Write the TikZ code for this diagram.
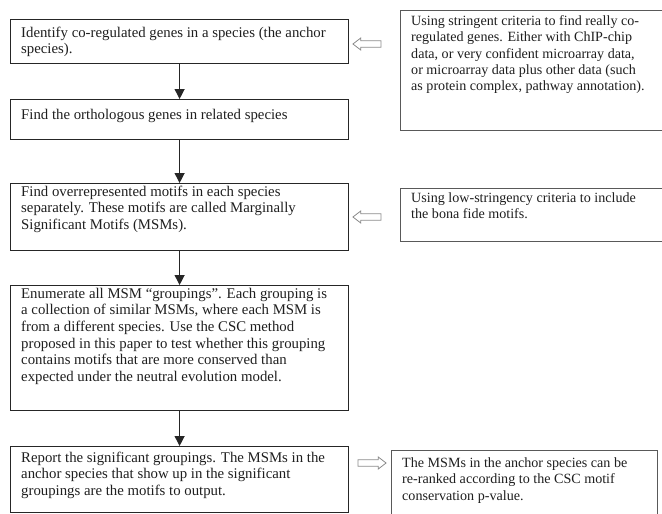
\documentclass[tikz,border=0pt]{standalone}
\usepackage{fontspec}
\setmainfont{Liberation Serif}
\usetikzlibrary{shapes.arrows,arrows.meta,calc}
\begin{document}
\begin{tikzpicture}[x=1pt,y=-1pt,
  box/.style={draw=black!85, line width=1.2pt, inner sep=0pt, anchor=north west},
  notebox/.style={draw=black!65, line width=1.2pt, inner sep=0pt, anchor=north west},
  txt/.style={anchor=north west, align=left, inner sep=0pt, text=black!88,
    font=\fontsize{14.8}{16.7}\selectfont},
  ntxt/.style={txt, font=\fontsize{14.1}{16.3}\selectfont},
  darr/.style={line width=1.2pt, draw=black!85, -{Triangle[width=10pt,length=10pt]}},
  harrow/.style={single arrow, draw=black!45, line width=0.8pt, fill=white,
    minimum height=28pt, inner xsep=0pt, inner ysep=2.8pt,
    single arrow head extend=2.8pt, single arrow tip angle=75}]
\useasboundingbox (0,0) rectangle (662,514);
\fill[white] (0,0) rectangle (662,514);

% main flow boxes
\node[box, minimum width=338pt, minimum height=44pt] (b1) at (10,19) {};
\node[box, minimum width=338pt, minimum height=40pt] (b2) at (10,99) {};
\node[box, minimum width=338pt, minimum height=67pt] (b3) at (10,183) {};
\node[box, minimum width=338pt, minimum height=125pt] (b4) at (10,285) {};
\node[box, minimum width=338pt, minimum height=66pt] (b5) at (10,446) {};

\node[txt] (t1) at ($(b1.north west)+(11,6.3)$) {\strut Identify co-regulated genes in a species (the anchor\\species).};
\node[txt] (t2) at ($(b2.north west)+(11,8.3)$) {\strut Find the orthologous genes in related species};
\node[txt] (t3) at ($(b3.north west)+(11,1.3)$) {\strut Find overrepresented motifs in each species\\separately. These motifs are called Marginally\\Significant Motifs (MSMs).};
\node[txt] (t4) at ($(b4.north west)+(11,1.3)$) {\strut Enumerate all MSM “groupings”. Each grouping is\\a collection of similar MSMs, where each MSM is\\from a different species. Use the CSC method\\proposed in this paper to test whether this grouping\\contains motifs that are more conserved than\\expected under the neutral evolution model.};
\node[txt] (t5) at ($(b5.north west)+(11,4.3)$) {\strut Report the significant groupings. The MSMs in the\\anchor species that show up in the significant\\groupings are the motifs to output.};

% side notes
\node[notebox, minimum width=275pt, minimum height=120pt] (r1) at (400,10) {};
\node[notebox, minimum width=275pt, minimum height=53pt] (r2) at (400,188) {};
\node[notebox, minimum width=266pt, minimum height=75pt] (r3) at (391,450) {};

\node[ntxt] (u1) at ($(r1.north west)+(11,3.8)$) {\strut Using stringent criteria to find really co-\\regulated genes. Either with ChIP-chip\\data, or very confident microarray data,\\or microarray data plus other data (such\\as protein complex, pathway annotation).};
\node[ntxt] (u2) at ($(r2.north west)+(11,2.8)$) {\strut Using low-stringency criteria to include\\the bona fide motifs.};
\node[ntxt] (u3) at ($(r3.north west)+(11,5.8)$) {\strut The MSMs in the anchor species can be\\re-ranked according to the CSC motif\\conservation p-value.};

% down arrows
\draw[darr] (b1.south) -- (b2.north);
\draw[darr] (b2.south) -- (b3.north);
\draw[darr] (b3.south) -- (b4.north);
\draw[darr] (b4.south) -- (b5.north);

% hollow side arrows
\node[harrow, shape border rotate=180] (a1) at (369,44) {};
\node[harrow, shape border rotate=180] (a2) at (369,217) {};
\node[harrow] (a3) at (370,463) {};
\end{tikzpicture}
\end{document}
